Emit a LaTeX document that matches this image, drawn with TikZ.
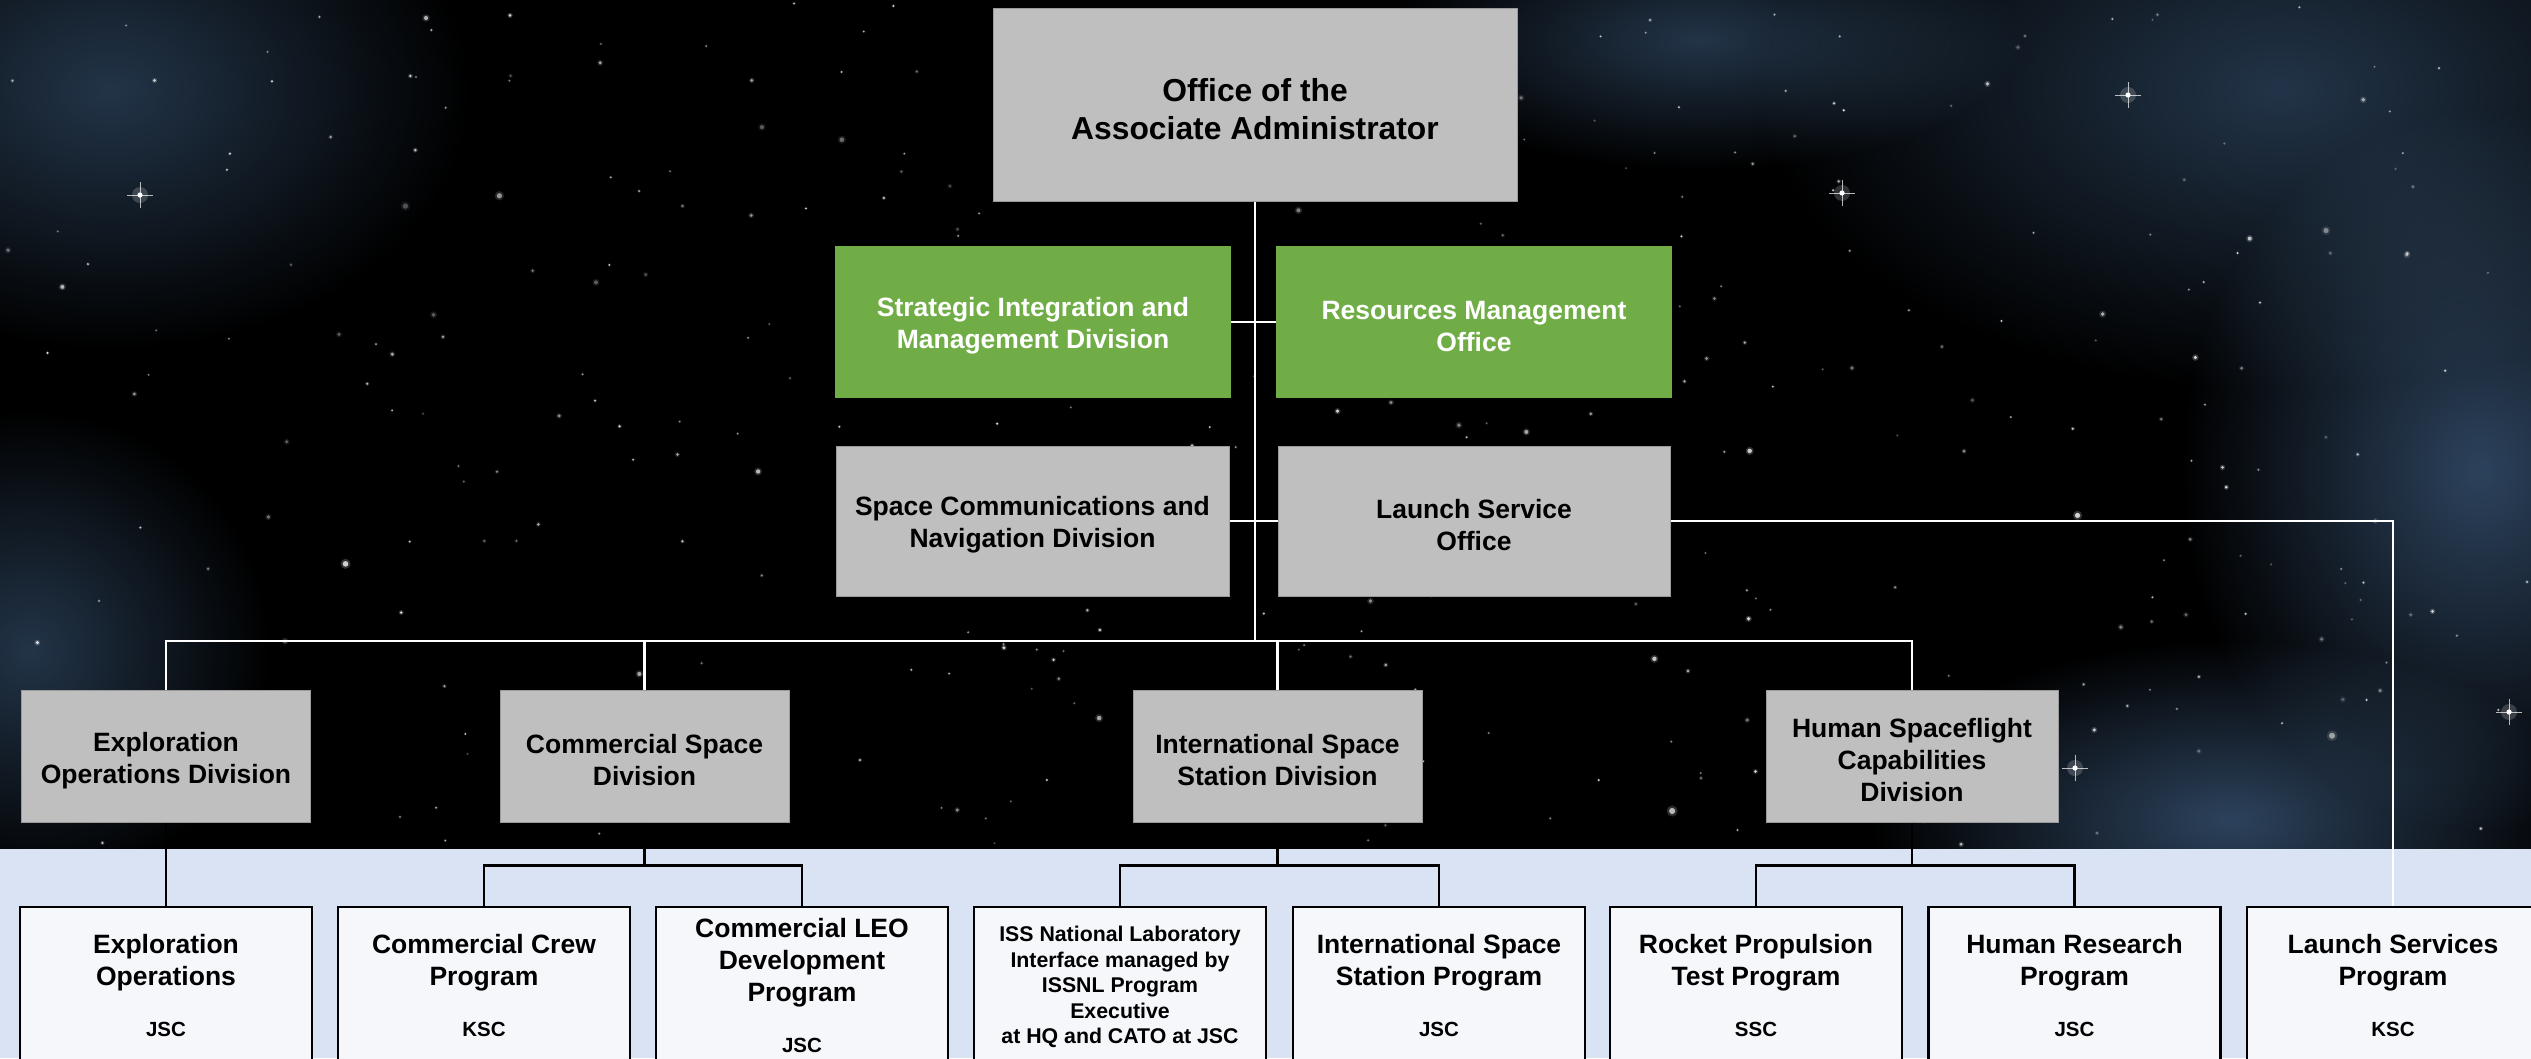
\documentclass[tikz,border=0pt]{standalone}
\usepackage{fontspec}
\setmainfont{Liberation Sans}
\definecolor{boxgray}{HTML}{BFBFBF}
\definecolor{boxedge}{HTML}{9A9A9A}
\definecolor{nasagreen}{HTML}{70AD47}
\definecolor{lightband}{HTML}{DAE3F3}
\definecolor{progfill}{HTML}{F5F7FB}
\definecolor{nebcol}{RGB}{34,52,72}
\definecolor{nebcolb}{RGB}{44,66,92}
\newcommand{\gp}{\rule{0pt}{27.5pt}}
\newcommand{\gpbig}{\rule{0pt}{32pt}}
\begin{document}
\begin{tikzpicture}[x=1pt,y=-1pt,
  box/.style={rectangle, inner sep=0pt, align=center, font=\bfseries\fontsize{26.5}{32}\selectfont},
  graybox/.style={box, fill=boxgray, draw=boxedge, line width=1pt},
  greenbox/.style={box, fill=nasagreen, text=white},
  divbox/.style={graybox, minimum width=289pt, minimum height=132pt},
  progbox/.style={rectangle, fill=progfill, draw=black, line width=2.8pt, minimum width=292pt, minimum height=160pt, inner sep=0pt},
  ptitle/.style={align=center, inner sep=0pt, font=\bfseries\fontsize{26.5}{32}\selectfont},
  pcode/.style={inner sep=0pt, font=\bfseries\fontsize{20.5}{24}\selectfont},
  wline/.style={draw=white, line width=2.5pt},
  bline/.style={draw=black, line width=2.8pt},
  haze/.style={shading=radial, inner color=#1, outer color=black, blend mode=screen},
]
\useasboundingbox (0,0) rectangle (2531,1058);
\clip (0,0) rectangle (2531,1058);

% background
\fill[black] (0,0) rectangle (2531,849);
\fill[lightband] (0,849) rectangle (2531,1058);

\begin{scope}
\clip (0,0) rectangle (2531,849);
% nebula haze
\foreach \cx/\cy/\rx/\ry/\cc in {110/90/360/260/nebcol, 2280/90/520/300/nebcol, 1700/40/320/130/nebcol, 2480/470/300/360/nebcolb, 2230/820/360/180/nebcolb, 30/650/240/240/nebcol}{
  \fill[haze=\cc] (\cx,\cy) ellipse[x radius=\rx pt, y radius=\ry pt];
}
% stars
\pgfmathsetseed{2024}
\foreach \i in {1,...,380}{
  \pgfmathsetmacro{\sx}{2531*rnd}
  \pgfmathsetmacro{\sy}{845*rnd}
  \pgfmathsetmacro{\sr}{0.9+3.0*rnd*rnd*rnd}
  \pgfmathsetmacro{\so}{0.25+0.6*rnd}
  \fill[white, opacity=0.25*\so] (\sx,\sy) circle[radius=1.8*\sr pt];
  \fill[white, opacity=\so] (\sx,\sy) circle[radius=\sr pt];
}
% bright sparkle stars
\foreach \px/\py in {140/195, 2509/712, 2075/768, 1842/193, 2128/95}{
  \fill[white, opacity=0.18] (\px,\py) circle[radius=8pt];
  \fill[white] (\px,\py) circle[radius=2.6pt];
  \draw[white, opacity=0.7, line width=0.8pt] (\px-13,\py) -- (\px+13,\py) (\px,\py-13) -- (\px,\py+13);
}
\end{scope}

% coordinates for buses
\coordinate (busL) at (166,641);

% top part nodes
\node[graybox, minimum width=524pt, minimum height=193pt, font=\bfseries\fontsize{31.8}{38}\selectfont] (oaa) at (1255,104.5) {\gpbig Office of the\\Associate Administrator};
\node[greenbox, minimum width=396pt, minimum height=152pt] (simd) at (1033,322) {\gp Strategic Integration and\\Management Division};
\node[greenbox, minimum width=396pt, minimum height=152pt] (rmo) at (1474,322) {\gp Resources Management\\Office};
\node[graybox, minimum width=393pt, minimum height=150pt] (scan) at (1032.5,521) {\gp Space Communications and\\Navigation Division};
\node[graybox, minimum width=392pt, minimum height=150pt] (lso) at (1474,521) {\gp Launch Service\\Office};

% divisions
\node[divbox] (eod) at (166,756) {\gp Exploration\\Operations Division};
\node[divbox] (csd) at (644.5,756) {\gp Commercial Space\\Division};
\node[divbox] (issd) at (1277.5,756) {\gp International Space\\Station Division};
\node[divbox, minimum width=292pt] (hscd) at (1912,756) {\gp Human Spaceflight\\Capabilities\\Division};

% programs
\node[progbox] (p1) at (166,987) {};
\node[progbox] (p2) at (484,987) {};
\node[progbox] (p3) at (802,987) {};
\node[progbox] (p4) at (1120,987) {};
\node[progbox] (p5) at (1439,987) {};
\node[progbox] (p6) at (1756,987) {};
\node[progbox] (p7) at (2074.5,987) {};
\node[progbox] (p8) at (2393,987) {};

% white connectors (upper area)
\draw[wline] (oaa.south) -- (oaa.south |- busL);
\draw[wline] (eod.north) -- (busL) -| (hscd.north);
\draw[wline] (csd.north) -- (csd.north |- busL);
\draw[wline] (issd.north) -- (issd.north |- busL);
\draw[wline] (simd.east) -- (rmo.west);
\draw[wline] (scan.east) -- (lso.west);
\draw[wline] (lso.east) -| (p8.north);

% black connectors (lower area)
\draw[bline] (eod.south) -- (p1.north);
\path (csd.south) ++(0,43) coordinate (cj);
\draw[bline] (csd.south) -- (cj);
\draw[bline] (p2.north) |- (cj) -| (p3.north);
\path (issd.south) ++(0,43) coordinate (ij);
\draw[bline] (issd.south) -- (ij);
\draw[bline] (p4.north) |- (ij) -| (p5.north);
\path (hscd.south) ++(0,43) coordinate (hj);
\draw[bline] (hscd.south) -- (hj);
\draw[bline] (p6.north) |- (hj) -| (p7.north);

% program texts
\node[ptitle] (t1) at (166,963) {Exploration\\Operations};
\node[pcode] (c1) at (166,1029) {JSC};
\node[ptitle] (t2) at (484,963) {Commercial Crew\\Program};
\node[pcode] (c2) at (484,1029) {KSC};
\node[ptitle] (t3) at (802,963) {Commercial LEO\\Development\\Program};
\node[pcode] (c3) at (802,1045) {JSC};
\node[ptitle, font=\bfseries\fontsize{21.3}{25.5}\selectfont] (t4) at (1120,987) {ISS National Laboratory\\Interface managed by\\ISSNL Program\\Executive\\at HQ and CATO at JSC};
\node[ptitle] (t5) at (1439,963) {International Space\\Station Program};
\node[pcode] (c5) at (1439,1029) {JSC};
\node[ptitle] (t6) at (1756,963) {Rocket Propulsion\\Test Program};
\node[pcode] (c6) at (1756,1029) {SSC};
\node[ptitle] (t7) at (2074.5,963) {Human Research\\Program};
\node[pcode] (c7) at (2074.5,1029) {JSC};
\node[ptitle] (t8) at (2393,963) {Launch Services\\Program};
\node[pcode] (c8) at (2393,1029) {KSC};
\end{tikzpicture}
\end{document}
